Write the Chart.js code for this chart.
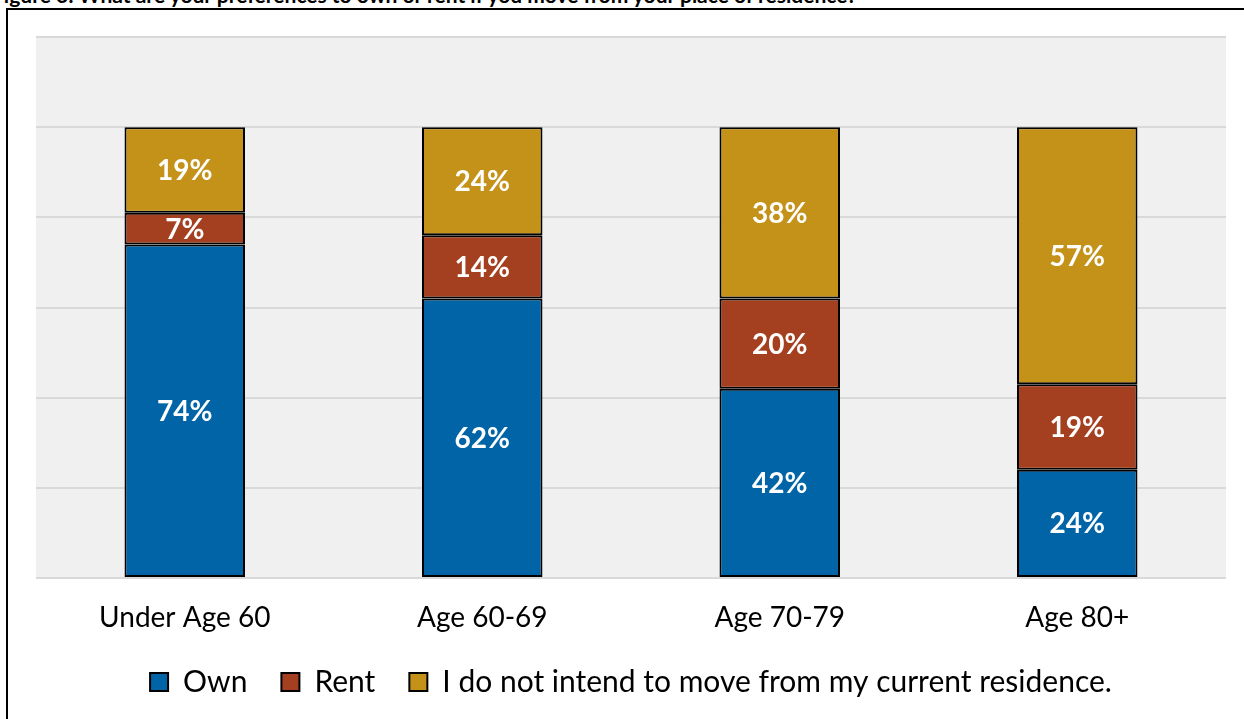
<!DOCTYPE html>
<html>
<head>
<meta charset="utf-8">
<script src="https://cdn.jsdelivr.net/npm/chart.js@4.4.0/dist/chart.umd.min.js"></script>
<style>
  html, body { margin: 0; padding: 0; background: #fff; overflow: hidden; }
  #wrap { position: relative; width: 1244px; height: 719px; overflow: hidden; }
  #title { position: absolute; left: -8px; top: -16px; font: bold 21px Lato, sans-serif; line-height: 21px; color: #000; white-space: nowrap; }
  #frame { position: absolute; left: 6px; top: 8px; right: 0; bottom: 0; border-left: 2px solid #000; border-top: 2px solid #000; }
  #chart { position: absolute; left: 0; top: 0; }
</style>
</head>
<body>
<div id="wrap">
  <div id="title">Figure 6: What are your preferences to own or rent if you move from your place of residence?</div>
  <div id="frame"></div>
  <canvas id="chart" width="1244" height="719"></canvas>
</div>
<script>
const categories = ["Under Age 60", "Age 60-69", "Age 70-79", "Age 80+"];
const ownValues = [74, 62, 42, 24];
const rentValues = [7, 14, 20, 19];
const stayValues = [19, 24, 38, 57];
const seriesNames = ["Own", "Rent", "I do not intend to move from my current residence."];

// gray plot background
const plotBg = {
  id: 'plotBg',
  beforeDraw(chart) {
    const a = chart.chartArea;
    const c = chart.ctx;
    c.save();
    c.fillStyle = '#f0f0f0';
    c.fillRect(a.left, a.top - 1, a.right - a.left, a.bottom - a.top + 2);
    c.restore();
  }
};

// percent labels in the middle of each segment
const segLabels = {
  id: 'segLabels',
  afterDatasetsDraw(chart) {
    const c = chart.ctx;
    c.save();
    c.font = 'bold 28px Lato, sans-serif';
    c.fillStyle = '#fff';
    c.textAlign = 'center';
    c.textBaseline = 'middle';
    chart.data.datasets.forEach((ds, i) => {
      chart.getDatasetMeta(i).data.forEach((bar, j) => {
        const mid = (bar.y + bar.base) / 2;
        c.fillText(ds.data[j] + '%', bar.x, mid + 1);
      });
    });
    c.restore();
  }
};

const ctx = document.getElementById('chart').getContext('2d');
new Chart(ctx, {
  type: 'bar',
  data: {
    labels: categories,
    datasets: [
      { label: seriesNames[0], data: ownValues, backgroundColor: '#0064A6' },
      { label: seriesNames[1], data: rentValues, backgroundColor: '#A43F1F' },
      { label: seriesNames[2], data: stayValues, backgroundColor: '#C49219' }
    ].map(d => Object.assign(d, { borderColor: '#000', borderWidth: 2, borderSkipped: false, barPercentage: 0.81, categoryPercentage: 0.5 }))
  },
  options: {
    responsive: false,
    animation: false,
    layout: { padding: { left: 36, right: 18, top: 37, bottom: 12 } },
    scales: {
      x: {
        stacked: true,
        grid: { display: false, drawTicks: false },
        border: { display: false },
        ticks: { color: '#000', font: { family: 'Lato', size: 28 }, padding: 23 },
        afterFit(scale) { scale.height = 55; }
      },
      y: {
        stacked: true,
        min: 0,
        max: 120,
        ticks: { stepSize: 20, display: false },
        grid: { color: '#d9d9d9', lineWidth: 2, drawTicks: false },
        border: { display: false }
      }
    },
    plugins: {
      legend: {
        position: 'bottom',
        labels: {
          color: '#000',
          font: { family: 'Lato', size: 30 },
          boxWidth: 18,
          boxHeight: 18,
          padding: 34
        }
      },
      tooltip: { enabled: false }
    }
  },
  plugins: [plotBg, segLabels]
});
</script>
</body>
</html>
